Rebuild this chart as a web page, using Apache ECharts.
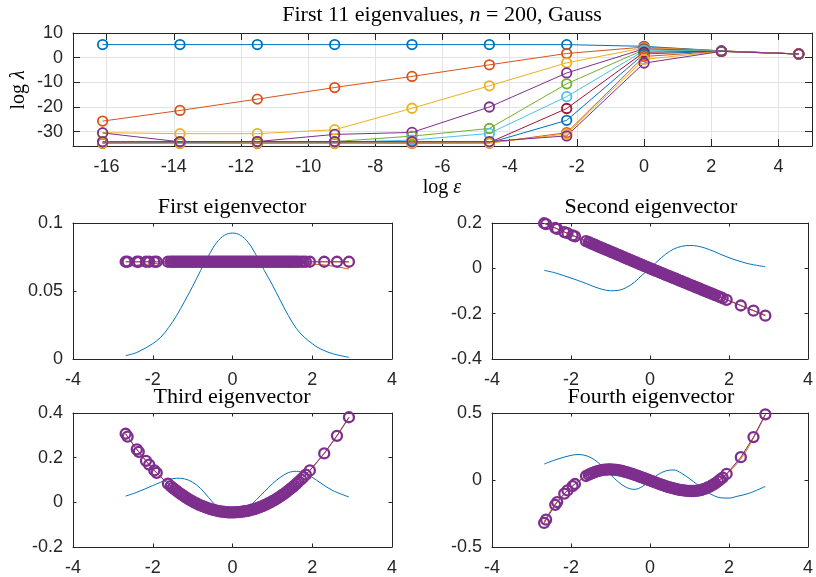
<!DOCTYPE html>
<html>
<head>
<meta charset="utf-8">
<script src="https://cdn.jsdelivr.net/npm/echarts@6/dist/echarts.min.js"></script>
<style>
  html, body { margin: 0; padding: 0; background: #ffffff; }
  #chart { width: 816px; height: 577px; }
</style>
</head>
<body>
<div id="chart"></div>
<script>
// ---------- eigenvalue decay: log(lambda_k) against log(epsilon) ----------
const epsLog = [-16.118, -13.816, -11.513, -9.210, -6.908, -4.605, -2.303, 0, 2.303, 4.605];

const lam1  = [5.30, 5.30, 5.30, 5.30, 5.30, 5.30, 5.29, 4.60, 2.75, 1.50];
const lam2  = [-25.7, -21.4, -16.8, -12.1, -7.6, -2.9, 1.7, 4.30, 2.75, 1.50];
const lam3  = [-30.4, -30.8, -30.8, -29.2, -20.5, -11.4, -2.1, 4.00, 2.70, 1.50];
const lam4  = [-30.5, -34.1, -34.0, -31.1, -30.3, -20.0, -6.2, 3.60, 2.70, 1.50];
const lam5  = [-34.0, -34.2, -34.3, -34.0, -31.8, -28.7, -10.6, 3.20, 2.65, 1.50];
const lam6  = [-34.3, -34.3, -34.3, -34.3, -33.4, -30.7, -15.8, 2.80, 2.65, 1.50];
const lam7  = [-34.6, -34.6, -34.6, -34.6, -34.5, -34.4, -20.6, 2.20, 2.60, 1.50];
const lam8  = [-34.6, -34.5, -34.6, -34.6, -34.6, -34.5, -25.4, 1.50, 2.60, 1.50];
const lam9  = [-34.7, -34.7, -34.7, -34.7, -34.7, -34.6, -30.4, 0.50, 2.55, 1.50];
const lam10 = [-34.6, -34.7, -34.6, -34.7, -34.6, -34.6, -30.9, -0.70, 2.55, 1.50];
const lam11 = [-34.1, -34.0, -34.0, -34.0, -34.0, -34.0, -31.7, -2.20, 2.55, 1.50];

// ---------- eigenvectors sampled at the node positions ----------
const nodes = [
  -2.68, -2.63, -2.40, -2.35, -2.17, -2.09, -1.96, -1.90, -1.62,
  -1.55, -1.50, -1.45, -1.40, -1.35, -1.30, -1.25, -1.20, -1.15, -1.10,
  -1.05, -1.00, -0.95, -0.90, -0.85, -0.80, -0.75, -0.70, -0.65, -0.60,
  -0.55, -0.50, -0.45, -0.40, -0.35, -0.30, -0.25, -0.20, -0.15, -0.10,
  -0.05, 0.00, 0.05, 0.10, 0.15, 0.20, 0.25, 0.30, 0.35, 0.40,
  0.45, 0.50, 0.55, 0.60, 0.65, 0.70, 0.75, 0.80, 0.85, 0.90,
  0.95, 1.00, 1.05, 1.10, 1.15, 1.20, 1.25, 1.30, 1.35, 1.40,
  1.45, 1.50, 1.55, 1.60, 1.65,
  1.72, 1.78, 1.84, 1.94, 2.30, 2.62, 2.92
];

const flat1 = [
  0.0715, 0.0715, 0.0715, 0.0715, 0.0715, 0.0715, 0.0715, 0.0715, 0.0715,
  0.0715, 0.0715, 0.0715, 0.0715, 0.0715, 0.0715, 0.0715, 0.0715, 0.0715, 0.0715,
  0.0715, 0.0715, 0.0715, 0.0715, 0.0715, 0.0715, 0.0715, 0.0715, 0.0715, 0.0715,
  0.0715, 0.0715, 0.0715, 0.0715, 0.0715, 0.0715, 0.0715, 0.0715, 0.0715, 0.0715,
  0.0715, 0.0715, 0.0715, 0.0715, 0.0715, 0.0715, 0.0715, 0.0715, 0.0715, 0.0715,
  0.0715, 0.0715, 0.0715, 0.0715, 0.0715, 0.0715, 0.0715, 0.0715, 0.0715, 0.0715,
  0.0715, 0.0715, 0.0715, 0.0715, 0.0715, 0.0715, 0.0715, 0.0715, 0.0715, 0.0715,
  0.0715, 0.0715, 0.0715, 0.0715, 0.0715,
  0.0715, 0.0715, 0.0715, 0.0715, 0.0715, 0.0715, 0.0715
];
const flat2 = [
  0.199, 0.195, 0.178, 0.174, 0.160, 0.155, 0.145, 0.141, 0.120,
  0.115, 0.111, 0.107, 0.104, 0.100, 0.096, 0.092, 0.089, 0.085, 0.081,
  0.078, 0.074, 0.070, 0.067, 0.063, 0.059, 0.056, 0.052, 0.048, 0.044,
  0.041, 0.037, 0.033, 0.030, 0.026, 0.022, 0.018, 0.015, 0.011, 0.007,
  0.004, 0.000, -0.004, -0.007, -0.011, -0.014, -0.018, -0.021, -0.025, -0.029,
  -0.032, -0.036, -0.039, -0.043, -0.046, -0.050, -0.054, -0.057, -0.061, -0.064,
  -0.068, -0.072, -0.075, -0.079, -0.082, -0.086, -0.089, -0.093, -0.097, -0.100,
  -0.104, -0.107, -0.111, -0.114, -0.118,
  -0.123, -0.127, -0.132, -0.139, -0.164, -0.187, -0.209
];
const flat3 = [
  0.307, 0.294, 0.237, 0.226, 0.186, 0.169, 0.143, 0.132, 0.084,
  0.073, 0.065, 0.058, 0.051, 0.044, 0.038, 0.032, 0.026, 0.020, 0.014,
  0.009, 0.004, -0.001, -0.005, -0.010, -0.014, -0.017, -0.021, -0.024, -0.027,
  -0.030, -0.033, -0.035, -0.037, -0.039, -0.041, -0.042, -0.043, -0.044, -0.045,
  -0.045, -0.045, -0.045, -0.044, -0.044, -0.043, -0.042, -0.040, -0.039, -0.037,
  -0.035, -0.032, -0.030, -0.027, -0.024, -0.020, -0.017, -0.013, -0.009, -0.004,
  0.000, 0.005, 0.010, 0.015, 0.021, 0.027, 0.033, 0.039, 0.046, 0.053,
  0.060, 0.067, 0.075, 0.083, 0.091,
  0.103, 0.113, 0.124, 0.143, 0.219, 0.298, 0.381
];
const flat4 = [
  -0.320, -0.296, -0.185, -0.165, -0.102, -0.078, -0.045, -0.030, 0.030,
  0.040, 0.047, 0.053, 0.059, 0.064, 0.068, 0.072, 0.075, 0.077, 0.078,
  0.079, 0.079, 0.078, 0.077, 0.075, 0.073, 0.070, 0.067, 0.063, 0.059,
  0.055, 0.050, 0.045, 0.040, 0.035, 0.030, 0.024, 0.019, 0.013, 0.008,
  0.002, -0.003, -0.009, -0.014, -0.020, -0.025, -0.031, -0.036, -0.041, -0.046,
  -0.051, -0.055, -0.059, -0.063, -0.067, -0.070, -0.073, -0.076, -0.078, -0.080,
  -0.081, -0.082, -0.082, -0.082, -0.081, -0.079, -0.077, -0.073, -0.069, -0.064,
  -0.058, -0.051, -0.043, -0.035, -0.025,
  -0.010, 0.004, 0.018, 0.045, 0.170, 0.320, 0.490
];

// large-epsilon (localised) eigenvectors
const xBlue = [-2.68, -2.4, -2.0, -1.8, -1.6, -1.4, -1.2, -1.0, -0.8, -0.6, -0.4, -0.2, 0,
               0.2, 0.4, 0.6, 0.8, 1.0, 1.2, 1.4, 1.6, 1.8, 2.0, 2.2, 2.5, 2.92];
const blue1 = [0.0025, 0.0048, 0.0113, 0.0160, 0.0232, 0.0320, 0.0425, 0.0534, 0.0650, 0.0760, 0.0855, 0.0910, 0.0926,
               0.0910, 0.0855, 0.0760, 0.0650, 0.0545, 0.0430, 0.0320, 0.0225, 0.0160, 0.0113, 0.0075, 0.0040, 0.0012];
const blue2 = [-0.009, -0.020, -0.043, -0.055, -0.068, -0.082, -0.093, -0.099, -0.097, -0.085, -0.062, -0.030, 0.000,
               0.033, 0.063, 0.085, 0.097, 0.101, 0.098, 0.089, 0.076, 0.061, 0.047, 0.035, 0.020, 0.007];
const blue3 = [0.028, 0.045, 0.075, 0.090, 0.102, 0.108, 0.105, 0.090, 0.062, 0.022, -0.018, -0.045, -0.055,
               -0.047, -0.022, 0.012, 0.048, 0.083, 0.112, 0.133, 0.139, 0.132, 0.112, 0.088, 0.054, 0.024];
const blue4 = [0.119, 0.150, 0.184, 0.190, 0.180, 0.150, 0.100, 0.040, -0.015, -0.055, -0.070, -0.050, -0.005,
               0.040, 0.068, 0.075, 0.050, 0.010, -0.035, -0.080, -0.115, -0.133, -0.135, -0.122, -0.100, -0.048];

// intermediate-epsilon eigenvectors
const xMid = [-2.68, -2.4, -2.0, -1.5, -1.0, -0.5, 0, 0.5, 1.0, 1.5, 2.0, 2.4, 2.92];
const orange1 = [0.0680, 0.0690, 0.0700, 0.0708, 0.0713, 0.0715, 0.0715, 0.0714, 0.0712, 0.0707, 0.0698, 0.0688, 0.0662];
const yellow1 = [0.0714, 0.0714, 0.0715, 0.0715, 0.0715, 0.0715, 0.0715, 0.0715, 0.0715, 0.0715, 0.0715, 0.0714, 0.0713];
const orange2 = [0.198, 0.178, 0.148, 0.110, 0.073, 0.037, 0.000, -0.036, -0.071, -0.107, -0.142, -0.171, -0.206];
const yellow2 = [0.199, 0.178, 0.148, 0.111, 0.074, 0.037, 0.000, -0.036, -0.072, -0.107, -0.143, -0.171, -0.208];
const orange3 = [0.305, 0.237, 0.150, 0.065, 0.004, -0.033, -0.045, -0.032, 0.006, 0.068, 0.155, 0.243, 0.378];
const yellow3 = [0.307, 0.237, 0.151, 0.065, 0.004, -0.033, -0.045, -0.032, 0.005, 0.067, 0.155, 0.243, 0.380];
const orange4 = [-0.310, -0.180, -0.055, 0.050, 0.079, 0.050, -0.003, -0.055, -0.082, -0.050, 0.060, 0.200, 0.485];
const yellow4 = [-0.318, -0.183, -0.055, 0.048, 0.079, 0.050, -0.003, -0.055, -0.082, -0.051, 0.062, 0.203, 0.488];

// ---------- styling ----------
const AX = '#262626';
const SANS = '"Liberation Sans", Arial, Helvetica, sans-serif';
const SERIF = '"Liberation Serif", "Times New Roman", serif';
const C = {
  blue: '#0072BD', orange: '#D95319', yellow: '#EDB120', purple: '#7E2F8E',
  green: '#77AC30', cyan: '#4DBEEE', red: '#A2142F'
};
const cycle = [C.blue, C.orange, C.yellow, C.purple, C.green, C.cyan, C.red];

const grids = [
  { left: 73,  top: 33,  width: 739, height: 113 },
  { left: 73,  top: 223, width: 319, height: 136 },
  { left: 492, top: 223, width: 318, height: 136 },
  { left: 73,  top: 413, width: 319, height: 137 },
  { left: 492, top: 413, width: 318, height: 137 }
];

function makeAxes(dim, gi, cfg) {
  const common = {
    type: 'value', gridIndex: gi, min: cfg.min, max: cfg.max, silent: true,
    axisLine: { show: true, onZero: false, lineStyle: { color: AX, width: 1 } },
    axisTick: { show: true, inside: true, length: cfg.tick, lineStyle: { color: AX, width: 1 } },
    axisPointer: { show: false }
  };
  if (cfg.interval) common.interval = cfg.interval; else common.splitNumber = cfg.split;
  const main = Object.assign({}, common, {
    position: dim === 'x' ? 'bottom' : 'left',
    axisLabel: {
      show: true, color: AX, fontFamily: SANS, fontSize: 18,
      margin: dim === 'x' ? 12 : 10,
      showMinLabel: cfg.showMin !== false, showMaxLabel: cfg.showMax !== false
    },
    splitLine: { show: !!cfg.grid, lineStyle: { color: '#e3e3e3', width: 1 } }
  });
  const mirror = Object.assign({}, common, {
    position: dim === 'x' ? 'top' : 'right',
    axisLabel: { show: false },
    splitLine: { show: false }
  });
  return [main, mirror];
}

const xAxes = [].concat(
  makeAxes('x', 0, { min: -17, max: 5, split: 11, tick: 7, grid: true, showMin: false, showMax: false }),
  makeAxes('x', 1, { min: -4, max: 4, interval: 2, tick: 3.5 }),
  makeAxes('x', 2, { min: -4, max: 4, interval: 2, tick: 3.5 }),
  makeAxes('x', 3, { min: -4, max: 4, interval: 2, tick: 3.5 }),
  makeAxes('x', 4, { min: -4, max: 4, interval: 2, tick: 3.5 })
);
const yAxes = [].concat(
  makeAxes('y', 0, { min: -35.8, max: 10, split: 5, tick: 7, grid: true, showMin: false }),
  makeAxes('y', 1, { min: 0, max: 0.1, interval: 0.05, tick: 3.5 }),
  makeAxes('y', 2, { min: -0.4, max: 0.2, interval: 0.2, tick: 3.5 }),
  makeAxes('y', 3, { min: -0.2, max: 0.4, interval: 0.2, tick: 3.5 }),
  makeAxes('y', 4, { min: -0.5, max: 0.5, interval: 0.5, tick: 3.5 })
);

function pairs(xArr, yArr) { return xArr.map((x, i) => [x, yArr[i]]); }

function plainLine(gi, xArr, yArr, color, smooth) {
  return {
    type: 'line', xAxisIndex: gi * 2, yAxisIndex: gi * 2, data: pairs(xArr, yArr),
    showSymbol: false, symbol: 'none', smooth: smooth || false, clip: false, silent: true,
    lineStyle: { color: color, width: 1 }, emphasis: { disabled: true }
  };
}
function ringLine(gi, xArr, yArr, color, size, stroke) {
  return {
    type: 'line', xAxisIndex: gi * 2, yAxisIndex: gi * 2, data: pairs(xArr, yArr),
    symbol: 'circle', symbolSize: size, showSymbol: true, clip: false, silent: true,
    lineStyle: { color: color, width: 1 },
    itemStyle: { color: 'rgba(255,255,255,0)', borderColor: color, borderWidth: stroke },
    emphasis: { disabled: true }
  };
}

const series = [];
[lam1, lam2, lam3, lam4, lam5, lam6, lam7, lam8, lam9, lam10, lam11].forEach((ys, k) => {
  series.push(ringLine(0, epsLog, ys, cycle[k % cycle.length], 9.5, 1.8));
});

const panels = [
  { blue: blue1, orange: orange1, yellow: yellow1, flat: flat1 },
  { blue: blue2, orange: orange2, yellow: yellow2, flat: flat2 },
  { blue: blue3, orange: orange3, yellow: yellow3, flat: flat3 },
  { blue: blue4, orange: orange4, yellow: yellow4, flat: flat4 }
];
panels.forEach((p, i) => {
  const gi = i + 1;
  series.push(plainLine(gi, xBlue, p.blue, C.blue, 0.35));
  series.push(plainLine(gi, xMid, p.orange, C.orange, 0.3));
  series.push(plainLine(gi, xMid, p.yellow, C.yellow, 0.3));
  series.push(ringLine(gi, nodes, p.flat, C.purple, 10, 2.3));
});

// ---------- titles and axis names ----------
function serifText(x, y, text, size, extra) {
  return Object.assign({
    type: 'text', x: x, y: y, silent: true,
    style: {
      text: text, align: 'center', verticalAlign: 'middle', fill: '#000',
      rich: {
        r: { fontFamily: SERIF, fontSize: size, fill: '#000' },
        i: { fontFamily: SERIF, fontSize: size, fontStyle: 'italic', fill: '#000' }
      }
    }
  }, extra || {});
}

const graphics = [
  serifText(442, 15, '{r|First 11 eigenvalues, }{i|n}{r| = 200, Gauss}', 22),
  serifText(442, 188, '{r|log }{i|ε}', 20),
  serifText(19, 90, '{r|log }{i|λ}', 20, { rotation: Math.PI / 2 }),
  serifText(232, 207, '{r|First eigenvector}', 22),
  serifText(651, 207, '{r|Second eigenvector}', 22),
  serifText(232, 397, '{r|Third eigenvector}', 22),
  serifText(651, 397, '{r|Fourth eigenvector}', 22)
];

const chart = echarts.init(document.getElementById('chart'), null, { renderer: 'canvas' });
chart.setOption({
  backgroundColor: '#ffffff',
  animation: false,
  grid: grids,
  xAxis: xAxes,
  yAxis: yAxes,
  series: series,
  graphic: graphics
});
</script>
</body>
</html>
